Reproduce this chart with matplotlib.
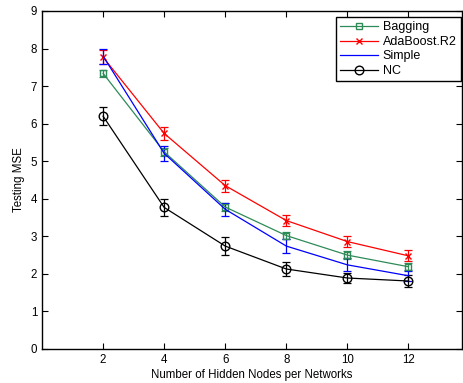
import numpy as np
import matplotlib
matplotlib.use('Agg')
import matplotlib.pyplot as plt
from matplotlib.lines import Line2D

plt.rcParams['font.family'] = ['Liberation Sans', 'DejaVu Sans']

#   Datos
nodes = [2, 4, 6, 8, 10, 12]

bagging = [7.34, 5.25, 3.78, 3.02, 2.50, 2.19]
bagging_err = [0.10, 0.10, 0.10, 0.10, 0.10, 0.10]

adaboost = [7.77, 5.74, 4.35, 3.42, 2.86, 2.48]
adaboost_err = [0.18, 0.18, 0.16, 0.15, 0.15, 0.15]

simple = [7.80, 5.21, 3.72, 2.74, 2.24, 1.95]
simple_err = [0.20, 0.20, 0.18, 0.18, 0.17, 0.13]

nc = [6.20, 3.77, 2.74, 2.13, 1.89, 1.81]
nc_err = [0.24, 0.23, 0.25, 0.18, 0.14, 0.15]

names = ['Bagging', 'AdaBoost.R2', 'Simple', 'NC']
colores = ['#2e8b57', '#ff0000', '#0000ff', 'black']
marcas = ['s', 'x', None, 'o']
tams = [5, 4.5, 5, 6.2]

fig = plt.figure(figsize=(4.63, 3.83), dpi=100)
ax = fig.add_axes([0.0907, 0.0888, 0.907, 0.8825])

kw = dict(linewidth=0.9, elinewidth=0.9, capsize=3, capthick=0.9)
series = [(bagging, bagging_err), (adaboost, adaboost_err),
          (simple, simple_err), (nc, nc_err)]
handles = []
for (y, e), nom, c, m, ms in zip(series, names, colores, marcas, tams):
    ax.errorbar(nodes, y, yerr=e, color=c, marker=m, markersize=ms,
                markerfacecolor='none', **kw)
    handles.append(Line2D([], [], color=c, marker=m, markersize=ms,
                          markerfacecolor='none', linewidth=0.9))

ax.set_xlim(0, 13.75)
ax.set_ylim(0, 9)
ax.set_xticks(nodes)
ax.set_yticks(range(10))
ax.tick_params(direction='in', top=True, right=True, length=4, labelsize=8.3,
               width=0.8)
for s in ax.spines.values():
    s.set_linewidth(1.0)

ax.set_xlabel('Number of Hidden Nodes per Networks', fontsize=8.3, labelpad=2)
ax.set_ylabel('Testing MSE', fontsize=8.3, labelpad=4)

leg = fig.legend(handles, names, loc='upper right', fontsize=9,
                 bbox_to_anchor=(461 / 463, 1 - 17 / 383),
                 bbox_transform=fig.transFigure, borderaxespad=0,
                 fancybox=False, edgecolor='black', framealpha=1,
                 handlelength=3.0, labelspacing=0.2,
                 borderpad=0.35, handletextpad=0.4)
leg.get_frame().set_linewidth(1.0)

fig.savefig('out.png', dpi=100)
